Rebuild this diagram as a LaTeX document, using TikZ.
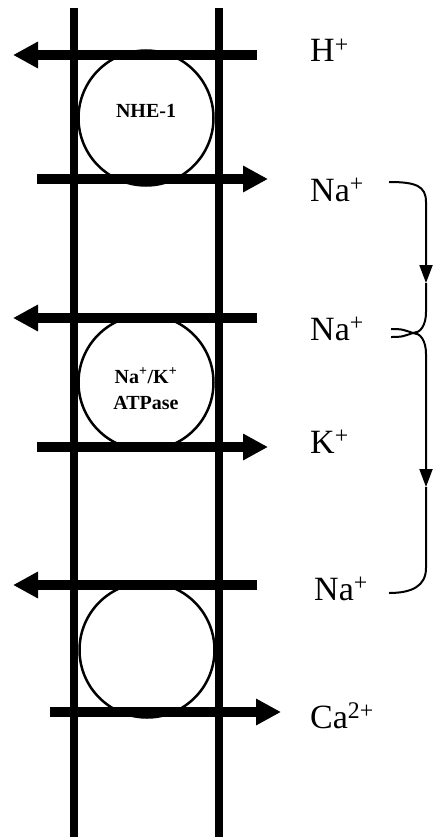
\documentclass[tikz,border=0pt]{standalone}
\usepackage{fontspec}
\setmainfont{Liberation Serif}
\usetikzlibrary{arrows.meta}
\begin{document}
\begin{tikzpicture}[x=1pt,y=-1pt,
  membrane/.style={line width=8pt},
  pump/.style={circle, draw, line width=2.5pt, minimum size=135pt, inner sep=0pt},
  pumptext/.style={font=\fontsize{20}{26}\selectfont\bfseries, align=center, inner sep=0pt},
  flux/.style={line width=10pt, -{Triangle[length=25pt,width=25pt]}},
  ion/.style={font=\fontsize{34}{38}\selectfont, anchor=base west, inner sep=0pt},
  link/.style={line width=2pt},
  linkarrow/.style={line width=2pt, -{Triangle[length=18pt,width=13pt]}}
]
\useasboundingbox (0,0) rectangle (432,837);

% transporters
\node[pump] (nhe) at (146,118) {};
\node[pump] (nak) at (146,382.5) {};
\node[pump] (ncx) at (147,650) {};
\node[pumptext, yshift=7pt] (nhelabel) at (nhe.center) {NHE-1};
\node[pumptext, yshift=-6pt] (naklabel) at (nak.center) {Na\textsuperscript{+}/K\textsuperscript{+}\\ATPase};

% ion fluxes
\draw[flux] (257,55) -- (13,55);
\draw[flux] (37,179) -- (268,179);
\draw[flux] (257,318) -- (13,318);
\draw[flux] (37,447) -- (268,447);
\draw[flux] (257,585) -- (13,585);
\draw[flux] (50,712) -- (281,712);

% membrane
\draw[membrane] (74,8) -- (74,837);
\draw[membrane] (219,8) -- (219,837);

% ion labels
\node[ion] (h)   at (310,62)  {H\textsuperscript{+}};
\node[ion] (na1) at (310,201) {Na\textsuperscript{+}};
\node[ion] (na2) at (310,340) {Na\textsuperscript{+}};
\node[ion] (k)   at (310,453) {K\textsuperscript{+}};
\node[ion] (na3) at (314,600) {Na\textsuperscript{+}};
\node[ion] (ca)  at (310,728) {Ca\textsuperscript{2+}};

% recycling brace
\coordinate (b1) at (389,182);
\coordinate (t1) at (426,283);
\coordinate (tip) at (413,333);
\coordinate (t2) at (426,487);
\coordinate (b3) at (389,593);
\draw[linkarrow] (b1) .. controls (416,182) and (426,186) .. (426,202) -- (t1);
\draw[link] (t1) -- (426,312) .. controls (426,326) and (420,333) .. (tip);
\draw[linkarrow] (tip) .. controls (420,333) and (426,340) .. (426,354) -- (t2);
\draw[link] (t2) -- (426,568) .. controls (426,586) and (412,593) .. (b3);
\draw[link] (391,329) .. controls (401,329) .. (tip) .. controls (401,337) .. (391,337);
\end{tikzpicture}
\end{document}
